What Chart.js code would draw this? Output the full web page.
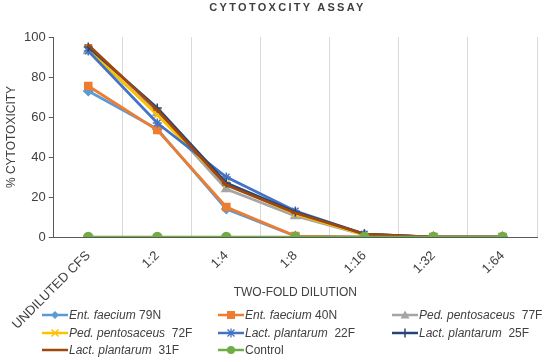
<!DOCTYPE html>
<html>
<head>
<meta charset="utf-8">
<script src="https://cdn.jsdelivr.net/npm/chart.js@4.4.1/dist/chart.umd.min.js"></script>
<style>
  body { margin: 0; background: #fff; font-family: "Liberation Sans", Arial, sans-serif; }
  #wrap { position: relative; width: 547px; height: 362px; overflow: hidden; }
  #title {
    position: absolute; left: 0; top: 0; width: 575px; text-align: center;
    font: bold 11px "Liberation Sans", Arial, sans-serif; line-height: 14px;
    letter-spacing: 2.3px; color: #404040;
  }
  .leg { position: absolute; height: 16px; font-size: 12px; color: #404040; white-space: pre; line-height: 16px; }
  .leg svg { position: absolute; left: 0; top: 2px; }
  .leg span.t { position: absolute; top: 0; }
</style>
</head>
<body>
<div id="wrap">
  <canvas id="chart" width="547" height="362"></canvas>
  <div id="title">CYTOTOXCITY ASSAY</div>
  <div id="legend"></div>
</div>
<script>
// dilution categories
const categories = ['UNDILUTED CFS', '1:2', '1:4', '1:8', '1:16', '1:32', '1:64'];
const yTicks = [0, 20, 40, 60, 80, 100];

// % cytotoxicity per strain
const entFaecium79N = [73, 54, 14, 0.5, 0, 0, 0];
const entFaecium40N = [75.5, 53.5, 15, 0.5, 0, 0, 0];
const pedPentosaceus77F = [93, 62, 24, 10.5, 1, 0, 0];
const pedPentosaceus72F = [94, 61, 26.5, 11.5, 1, 0, 0];
const lactPlantarum22F = [93, 57, 30, 13, 1.5, 0, 0];
const lactPlantarum25F = [95, 64.5, 27, 12.5, 1.5, 0, 0];
const lactPlantarum31F = [96, 63.5, 26, 12, 1.5, 0, 0];
const control = [0, 0, 0, 0, 0, 0, 0];

const series = [
    { species: 'Ent. faecium', strain: ' 79N', data: entFaecium79N, color: '#5B9BD5', point: 'rectRot', r: 4.5 },
    { species: 'Ent. faecium', strain: ' 40N', data: entFaecium40N, color: '#ED7D31', point: 'rect', r: 5 },
    { species: 'Ped. pentosaceus', strain: '  77F', data: pedPentosaceus77F, color: '#A5A5A5', point: 'triangle', r: 5 },
    { species: 'Ped. pentosaceus', strain: '  72F', data: pedPentosaceus72F, color: '#FFC000', point: 'crossRot', r: 4.5 },
    { species: 'Lact. plantarum', strain: '  22F', data: lactPlantarum22F, color: '#4472C4', point: 'star', r: 4.5 },
    { species: 'Lact. plantarum', strain: '  25F', data: lactPlantarum25F, color: '#264478', point: 'cross', r: 4.5 },
    { species: 'Lact. plantarum', strain: '  31F', data: lactPlantarum31F, color: '#9E480E', point: 'line', r: 4 },
    { species: '', strain: 'Control', data: control, color: '#70AD47', point: 'circle', r: 4.5 }
];

const datasets = series.map((s, i) => ({
    label: (s.species + s.strain).trim(),
    data: s.data,
    borderColor: s.color,
    backgroundColor: s.color,
    borderWidth: 2.75,
    pointStyle: s.point,
    pointRadius: s.r,
    pointBorderWidth: 1.5,
    pointBorderColor: s.color,
    pointBackgroundColor: s.color,
    tension: 0,
    order: series.length - i
}));

const ctx = document.getElementById('chart').getContext('2d');
new Chart(ctx, {
    type: 'line',
    data: { labels: categories, datasets: datasets },
    options: {
        responsive: false,
        animation: false,
        layout: { padding: { left: 0, top: 37, right: 10, bottom: 0 } },
        plugins: { legend: { display: false }, tooltip: { enabled: false } },
        scales: {
            x: {
                offset: true,
                grid: { offset: true, color: '#d9d9d9', lineWidth: 1, drawTicks: false },
                border: { display: true, color: '#595959', width: 1 },
                ticks: {
                    autoSkip: false, maxRotation: 45, minRotation: 45, padding: 11,
                    color: '#404040', font: { family: 'Liberation Sans', size: 13 }
                },
                title: {
                    display: true, text: 'TWO-FOLD DILUTION', color: '#404040',
                    font: { family: 'Liberation Sans', size: 12 }, padding: { top: 0, bottom: 62 }
                },
                // tall box so the long rotated label is not clipped; title is lifted by its padding
                afterFit: scale => { scale.height = 125; }
            },
            y: {
                min: 0, max: 100,
                afterBuildTicks: scale => { scale.ticks = yTicks.map(v => ({ value: v })); },
                grid: { drawOnChartArea: false, drawTicks: true, tickLength: 5, color: '#595959' },
                border: { display: true, color: '#595959', width: 1 },
                ticks: { padding: 3, color: '#404040', font: { family: 'Liberation Sans', size: 13 } },
                title: {
                    display: true, text: '% CYTOTOXICITY', color: '#404040',
                    font: { family: 'Liberation Sans', size: 12 }, padding: { top: 3, bottom: 0 }
                },
                afterFit: scale => { scale.width = 52; }
            }
        }
    }
});

// legend, built as html so the species names can be italic
function markerSvg(shape, c) {
    const m = 13, y = 6;
    switch (shape) {
        case 'rectRot': return `<polygon points="${m},${y-4} ${m+4},${y} ${m},${y+4} ${m-4},${y}" fill="${c}"/>`;
        case 'rect': return `<rect x="${m-4}" y="${y-4}" width="8" height="8" fill="${c}"/>`;
        case 'triangle': return `<polygon points="${m},${y-4.5} ${m+4.5},${y+3.5} ${m-4.5},${y+3.5}" fill="${c}"/>`;
        case 'crossRot': return `<path d="M${m-3.5} ${y-3.5}L${m+3.5} ${y+3.5}M${m+3.5} ${y-3.5}L${m-3.5} ${y+3.5}" stroke="${c}" stroke-width="1.5"/>`;
        case 'star': return `<path d="M${m-3.5} ${y-3.5}L${m+3.5} ${y+3.5}M${m+3.5} ${y-3.5}L${m-3.5} ${y+3.5}M${m} ${y-4.5}L${m} ${y+4.5}" stroke="${c}" stroke-width="1.3"/>`;
        case 'cross': return `<path d="M${m} ${y-4.5}L${m} ${y+4.5}" stroke="${c}" stroke-width="1.5"/>`;
        case 'circle': return `<circle cx="${m}" cy="${y}" r="4" fill="${c}"/>`;
        default: return '';
    }
}

const legendCols = [42, 218, 392];
const legendRows = [307, 324.5, 342];
const legendEl = document.getElementById('legend');
series.forEach((s, i) => {
    const div = document.createElement('div');
    div.className = 'leg';
    div.style.left = legendCols[i % 3] + 'px';
    div.style.top = legendRows[Math.floor(i / 3)] + 'px';
    div.innerHTML = `
        <svg width="26" height="12"><line x1="0" y1="6" x2="26" y2="6" stroke="${s.color}" stroke-width="2.5"/>${markerSvg(s.point, s.color)}</svg>
        <span class="t" style="left:27px">${s.species ? '<i>' + s.species + '</i>' : ''}${s.strain}</span>
    `;
    legendEl.appendChild(div);
});
</script>
</body>
</html>
